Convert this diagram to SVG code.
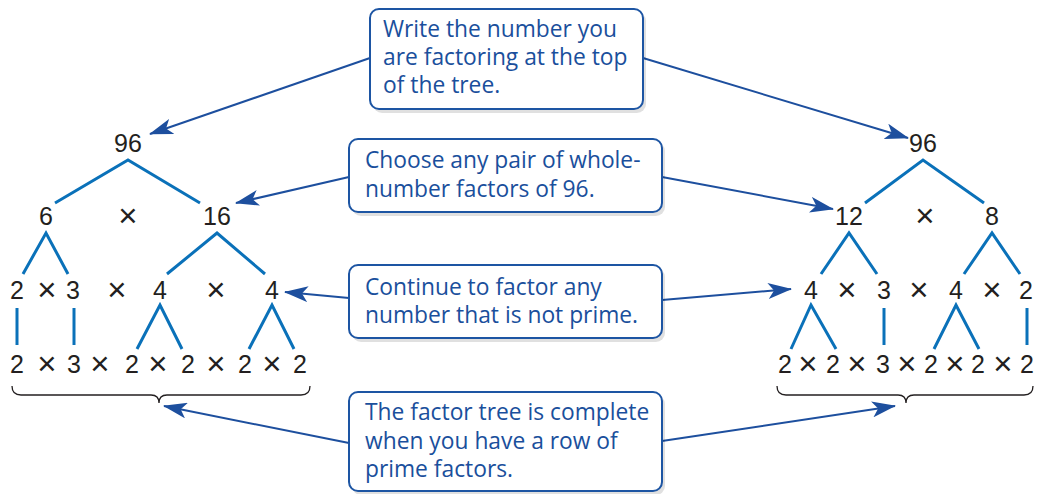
<svg xmlns="http://www.w3.org/2000/svg" width="1043" height="494" viewBox="0 0 1043 494">
<style>
.n{font-family:"Liberation Sans",Arial,sans-serif;font-size:25px;fill:#231f20;text-anchor:middle}
.x{font-family:"Liberation Sans",Arial,sans-serif;font-size:33px;fill:#231f20;text-anchor:middle}
.t{font-family:"Open Sans","Noto Sans",sans-serif;font-size:22.8px;fill:#1a4f9c}
.tl{stroke:#0a71b9;stroke-width:3;fill:none}
.ar{stroke:#1d4f9e;stroke-width:2;fill:none}
.box{fill:#fff;stroke:#1d55a3;stroke-width:2}
.sh{fill:#000;opacity:0.12}
.br{stroke:#231f20;stroke-width:1.3;fill:none}
</style>
<defs>
<marker id="ah" markerUnits="userSpaceOnUse" markerWidth="24" markerHeight="16" viewBox="0 0 24 16" refX="23" refY="8" orient="auto">
<path d="M0,0 L24,8 L0,16 L6,8 z" fill="#1d4f9e"/>
</marker>
</defs>
<rect width="1043" height="494" fill="#fff"/>

<g id="connectors">
<line class="ar" x1="370" y1="58" x2="150" y2="134" marker-end="url(#ah)"/>
<line class="ar" x1="643" y1="58" x2="908" y2="138" marker-end="url(#ah)"/>
<line class="ar" x1="349" y1="177" x2="236" y2="203" marker-end="url(#ah)"/>
<line class="ar" x1="662" y1="177" x2="833" y2="209" marker-end="url(#ah)"/>
<line class="ar" x1="349" y1="298" x2="285" y2="292" marker-end="url(#ah)"/>
<line class="ar" x1="662" y1="300" x2="791" y2="289" marker-end="url(#ah)"/>
<line class="ar" x1="349" y1="443" x2="164" y2="406" marker-end="url(#ah)"/>
<line class="ar" x1="662" y1="441" x2="895" y2="406" marker-end="url(#ah)"/>
</g>

<g id="left-tree">
<g class="tl">
<polyline points="55,203 128,160 200,203"/>
<polyline points="23,274 46,233 68,274"/>
<polyline points="167,274 217,233 265,274"/>
<line x1="17" y1="308" x2="17" y2="345"/>
<line x1="74" y1="308" x2="74" y2="345"/>
<polyline points="137,349 160,305 182,349"/>
<polyline points="249,349 272,305 294,349"/>
</g>
<text class="n" x="128" y="152">96</text>
<text class="n" x="46" y="225">6</text>
<text class="x" x="128" y="227">×</text>
<text class="n" x="217" y="225">16</text>
<text class="n" x="17" y="299">2</text>
<text class="x" x="47" y="301">×</text>
<text class="n" x="73" y="299">3</text>
<text class="x" x="117" y="301">×</text>
<text class="n" x="160" y="299">4</text>
<text class="x" x="216" y="301">×</text>
<text class="n" x="272" y="299">4</text>
<text class="n" x="17" y="373">2</text>
<text class="x" x="47" y="375">×</text>
<text class="n" x="74" y="373">3</text>
<text class="x" x="100" y="375">×</text>
<text class="n" x="132" y="373">2</text>
<text class="x" x="158" y="375">×</text>
<text class="n" x="188" y="373">2</text>
<text class="x" x="216" y="375">×</text>
<text class="n" x="245" y="373">2</text>
<text class="x" x="272" y="375">×</text>
<text class="n" x="300" y="373">2</text>
<path class="br" d="M12,386 Q12,395 21,395 L151,395 Q159,395 159,403 Q159,395 167,395 L301,395 Q310,395 310,386"/>
</g>

<g id="right-tree">
<g class="tl">
<polyline points="865,203 923,160 984,203"/>
<polyline points="821,274 849,233 877,274"/>
<polyline points="964,274 992,233 1020,274"/>
<polyline points="791,349 811,305 836,349"/>
<line x1="884" y1="308" x2="884" y2="345"/>
<polyline points="934,349 956,305 979,349"/>
<line x1="1027" y1="308" x2="1027" y2="345"/>
</g>
<text class="n" x="923" y="152">96</text>
<text class="n" x="849" y="225">12</text>
<text class="x" x="925" y="227">×</text>
<text class="n" x="992" y="225">8</text>
<text class="n" x="811" y="299">4</text>
<text class="x" x="847" y="301">×</text>
<text class="n" x="884" y="299">3</text>
<text class="x" x="919" y="301">×</text>
<text class="n" x="956" y="299">4</text>
<text class="x" x="992" y="301">×</text>
<text class="n" x="1026" y="299">2</text>
<text class="n" x="785" y="373">2</text>
<text class="x" x="808" y="375">×</text>
<text class="n" x="833" y="373">2</text>
<text class="x" x="857" y="375">×</text>
<text class="n" x="883" y="373">3</text>
<text class="x" x="907" y="375">×</text>
<text class="n" x="931" y="373">2</text>
<text class="x" x="955" y="375">×</text>
<text class="n" x="978" y="373">2</text>
<text class="x" x="1003" y="375">×</text>
<text class="n" x="1027" y="373">2</text>
<path class="br" d="M777,386 Q777,395 786,395 L898,395 Q906,395 906,403 Q906,395 914,395 L1024,395 Q1033,395 1033,386"/>
</g>

<g id="box-write">
<rect class="sh" x="373" y="12" width="273" height="101" rx="9"/>
<rect class="box" x="370" y="9" width="273" height="100" rx="9"/>
<text class="t" x="383" y="37">Write the number you</text>
<text class="t" x="383" y="65">are factoring at the top</text>
<text class="t" x="383" y="93">of the tree.</text>
</g>

<g id="box-choose">
<rect class="sh" x="352" y="142" width="313" height="74" rx="9"/>
<rect class="box" x="349" y="139" width="313" height="73" rx="9"/>
<text class="t" x="365" y="168">Choose any pair of whole-</text>
<text class="t" x="365" y="197">number factors of 96.</text>
</g>

<g id="box-continue">
<rect class="sh" x="352" y="268" width="313" height="74" rx="9"/>
<rect class="box" x="349" y="265" width="313" height="73" rx="9"/>
<text class="t" x="365" y="295">Continue to factor any</text>
<text class="t" x="365" y="323">number that is not prime.</text>
</g>

<g id="box-complete">
<rect class="sh" x="352" y="395" width="313" height="100" rx="9"/>
<rect class="box" x="349" y="392" width="313" height="99" rx="9"/>
<text class="t" x="365" y="420">The factor tree is complete</text>
<text class="t" x="365" y="448.5">when you have a row of</text>
<text class="t" x="365" y="477">prime factors.</text>
</g>
</svg>
